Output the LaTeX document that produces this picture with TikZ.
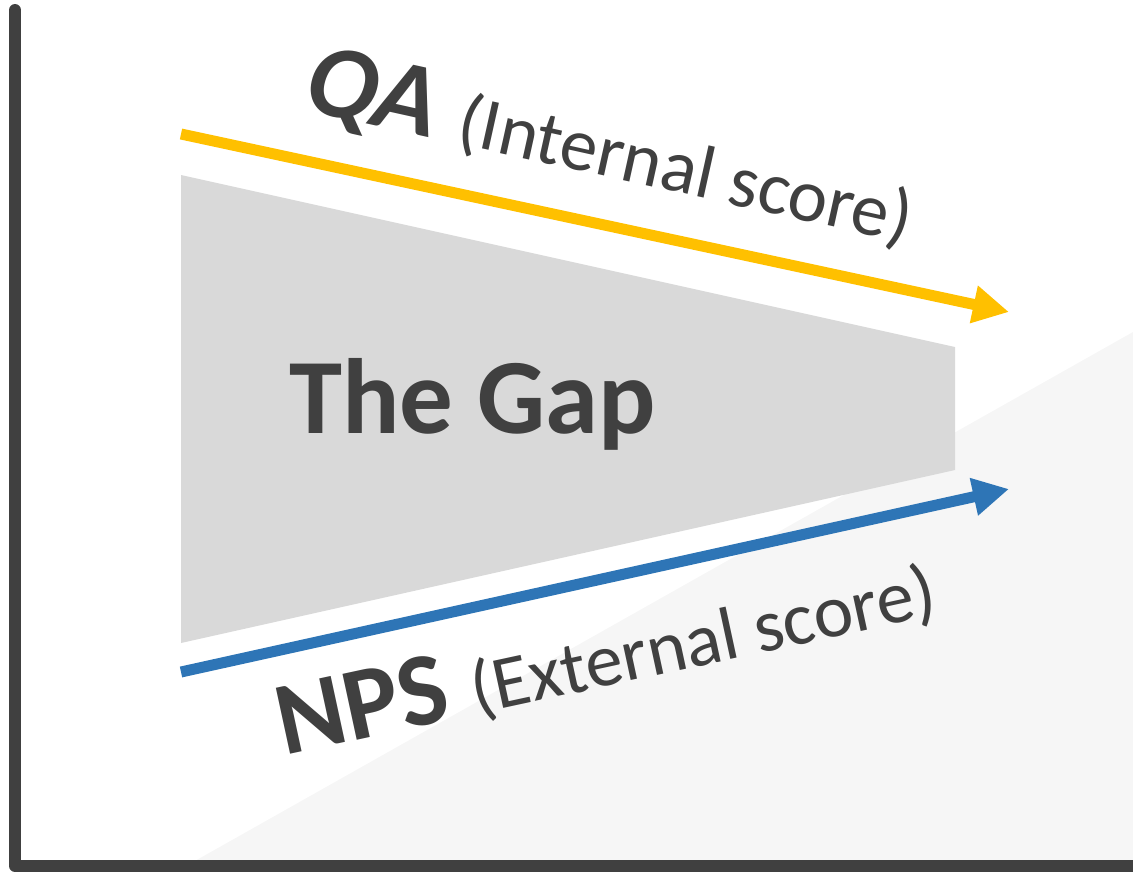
\documentclass[tikz,border=0pt]{standalone}
\usepackage{fontspec}
\setmainfont{Carlito}
\usetikzlibrary{arrows.meta}
\definecolor{axisgray}{HTML}{404040}
\definecolor{qayellow}{HTML}{FFC000}
\definecolor{npsblue}{HTML}{2E75B6}
\definecolor{gapgray}{HTML}{D9D9D9}
\definecolor{wedgegray}{HTML}{F6F6F6}
\tikzset{
  axisline/.style={draw=axisgray, line width=12pt, line cap=round, line join=round},
  trend/.style={line width=11pt, -{Triangle[length=36pt,width=36pt]}},
  biglabel/.style={text=axisgray, inner sep=0pt, anchor=base west, font=\fontsize{104}{110}\selectfont\bfseries}
}
\newcommand{\scorefont}{\fontsize{75}{80}\selectfont\mdseries\upshape}
\begin{document}
\begin{tikzpicture}[x=1pt,y=-1pt]
  \useasboundingbox (0,0) rectangle (1133,873);
  % pale wedge in the lower right
  \fill[wedgegray] (186,866) -- (1133,332) -- (1133,866) -- cycle;
  % the gap between the two scores
  \fill[gapgray] (181,175) -- (955,347) -- (955,470) -- (181,643) -- cycle;
  % score trends
  \coordinate (qaS) at (181,134);
  \coordinate (qaE) at (1009,312);
  \coordinate (npsS) at (181,672);
  \coordinate (npsE) at (1009,489);
  \draw[trend, qayellow] (qaS) -- (qaE);
  \draw[trend, npsblue] (npsS) -- (npsE);
  % labels
  \node[biglabel, rotate=-12.5] (qa) at (301,109) {\itshape QA {\scorefont (Internal score)}};
  \node[biglabel, rotate=12.2] (nps) at (284,756) {NPS {\scorefont (External score)}};
  \node[biglabel, font=\fontsize{107}{110}\selectfont\bfseries] (gap) at (289,433) {The Gap};
  % axes
  \draw[axisline] (15,10) -- (15,866) -- (1150,866);
\end{tikzpicture}
\end{document}
